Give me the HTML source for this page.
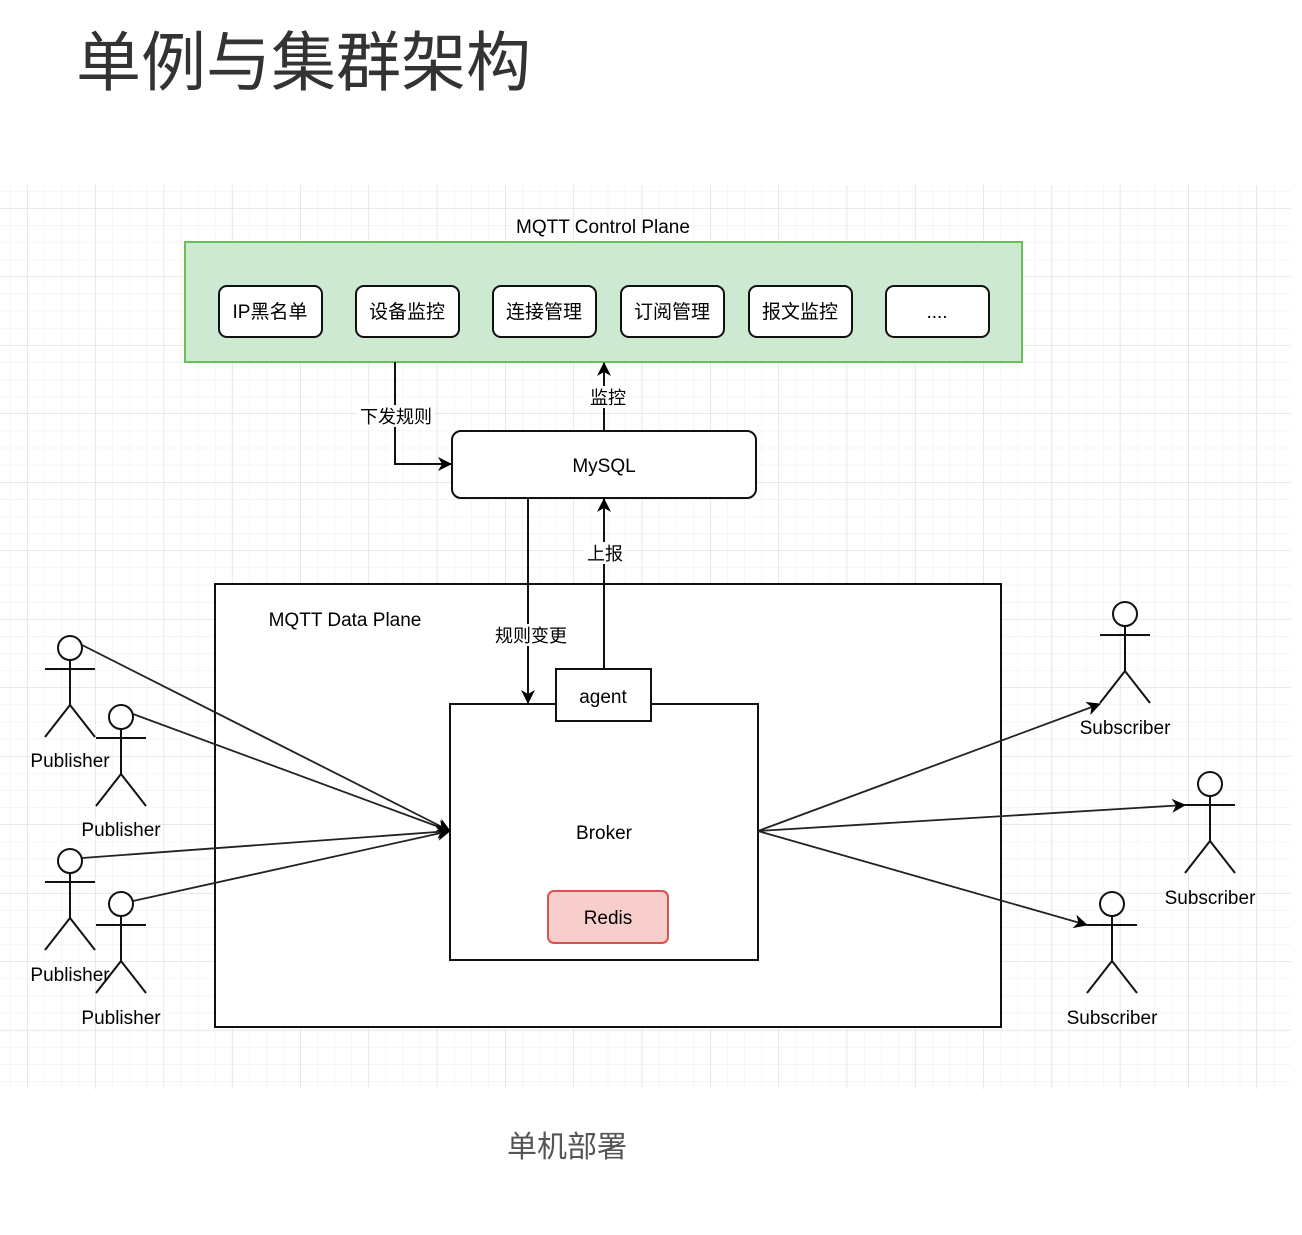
<!DOCTYPE html>
<html><head><meta charset="utf-8"><style>
html,body{margin:0;padding:0;background:#fff;}
svg text{font-family:"Liberation Sans","Noto Sans CJK SC",sans-serif;}
</style></head><body>
<svg width="1302" height="1230" viewBox="0 0 1302 1230" xmlns="http://www.w3.org/2000/svg">
<defs>
<pattern id="minor" x="27" y="208" width="17.08" height="17.12" patternUnits="userSpaceOnUse">
<path d="M0 0V17.12M0 0H17.08" stroke="#efefef" stroke-width="1.2" fill="none"/>
</pattern>
<pattern id="major" x="27" y="208" width="68.3" height="68.5" patternUnits="userSpaceOnUse">
<path d="M0 0V68.5M0 0H68.3" stroke="#d8d8d8" stroke-width="1" fill="none"/>
</pattern>
<marker id="ar" markerWidth="14" markerHeight="14" refX="13" refY="7" orient="auto" markerUnits="userSpaceOnUse" viewBox="0 0 14 14">
<path d="M0 0L14 7L0 14L4 7Z" fill="#000"/>
</marker>
<marker id="ar2" markerWidth="14" markerHeight="14" refX="13" refY="7" orient="auto" markerUnits="userSpaceOnUse" viewBox="0 0 14 14">
<path d="M0 0L14 7L0 14L4 7Z" fill="#000"/>
</marker>
</defs>
<text x="76" y="85" font-size="65" fill="#333" style="font-family:'Noto Sans CJK SC',sans-serif">单例与集群架构</text>
<rect x="0" y="185" width="1291" height="904" fill="url(#minor)"/>
<rect x="0" y="185" width="1291" height="904" fill="url(#major)"/>

<text x="603" y="233" font-size="19" text-anchor="middle" fill="#000">MQTT Control Plane</text>
<rect x="185" y="242" width="837" height="120" fill="#cde9d1" stroke="#6bbf59" stroke-width="2"/>
<g fill="#fff" stroke="#111" stroke-width="2">
<rect x="219" y="286" width="103" height="51" rx="8"/>
<rect x="356" y="286" width="103" height="51" rx="8"/>
<rect x="493" y="286" width="103" height="51" rx="8"/>
<rect x="621" y="286" width="103" height="51" rx="8"/>
<rect x="749" y="286" width="103" height="51" rx="8"/>
<rect x="886" y="286" width="103" height="51" rx="8"/>
</g>
<g font-size="19" text-anchor="middle" fill="#000">
<text x="270" y="318">IP黑名单</text>
<text x="407" y="318">设备监控</text>
<text x="544" y="318">连接管理</text>
<text x="672" y="318">订阅管理</text>
<text x="800" y="318">报文监控</text>
<text x="937" y="318">....</text>
</g>

<rect x="452" y="431" width="304" height="67" rx="9" fill="#fff" stroke="#111" stroke-width="2"/>
<text x="604" y="472" font-size="19" text-anchor="middle">MySQL</text>

<rect x="215" y="584" width="786" height="443" fill="#fff" stroke="#111" stroke-width="2"/>
<text x="345" y="626" font-size="19" text-anchor="middle">MQTT Data Plane</text>
<rect x="450" y="704" width="308" height="256" fill="#fff" stroke="#111" stroke-width="2"/>
<text x="604" y="839" font-size="19" text-anchor="middle">Broker</text>
<rect x="548" y="891" width="120" height="52" rx="6" fill="#f8cecc" stroke="#d9534f" stroke-width="2"/>
<text x="608" y="924" font-size="19" text-anchor="middle">Redis</text>

<g stroke="#111" stroke-width="2" fill="none">
<path d="M395 362V464H451" marker-end="url(#ar)"/>
<path d="M604 431V363" marker-end="url(#ar)"/>
<path d="M604 669V499" marker-end="url(#ar)"/>
<path d="M528 498V703" marker-end="url(#ar)"/>
</g>
<rect x="556" y="669" width="95" height="52" fill="#fff" stroke="#111" stroke-width="2"/>
<text x="603" y="703" font-size="19" text-anchor="middle">agent</text>

<g font-size="18" text-anchor="middle">
<rect x="358" y="405" width="76" height="22" fill="#fff"/>
<text x="396" y="423">下发规则</text>
<rect x="588" y="386" width="40" height="22" fill="#fff"/>
<text x="608" y="404">监控</text>
<rect x="585" y="542" width="40" height="22" fill="#fff"/>
<text x="605" y="560">上报</text>
<rect x="492" y="624" width="78" height="22" fill="#fff"/>
<text x="531" y="642">规则变更</text>
</g>

<g stroke="#222" stroke-width="1.8" fill="none">
<path d="M82 645L450 831" marker-end="url(#ar2)"/>
<path d="M133 714L450 831" marker-end="url(#ar2)"/>
<path d="M82 858L450 831" marker-end="url(#ar2)"/>
<path d="M133 901L450 831" marker-end="url(#ar2)"/>
<path d="M758 831L1100 704" marker-end="url(#ar2)"/>
<path d="M758 831L1185 805" marker-end="url(#ar2)"/>
<path d="M758 831L1087 925" marker-end="url(#ar2)"/>
</g>

<g stroke="#111" stroke-width="2" fill="none">
<g transform="translate(70,648)"><circle r="12" cy="0" fill="#fff"/><path d="M0 12V57M-25 21H25M0 57L-25 89M0 57L25 89"/></g>
<g transform="translate(121,717)"><circle r="12" fill="#fff"/><path d="M0 12V57M-25 21H25M0 57L-25 89M0 57L25 89"/></g>
<g transform="translate(70,861)"><circle r="12" fill="#fff"/><path d="M0 12V57M-25 21H25M0 57L-25 89M0 57L25 89"/></g>
<g transform="translate(121,904)"><circle r="12" fill="#fff"/><path d="M0 12V57M-25 21H25M0 57L-25 89M0 57L25 89"/></g>
<g transform="translate(1125,614)"><circle r="12" fill="#fff"/><path d="M0 12V57M-25 21H25M0 57L-25 89M0 57L25 89"/></g>
<g transform="translate(1210,784)"><circle r="12" fill="#fff"/><path d="M0 12V57M-25 21H25M0 57L-25 89M0 57L25 89"/></g>
<g transform="translate(1112,904)"><circle r="12" fill="#fff"/><path d="M0 12V57M-25 21H25M0 57L-25 89M0 57L25 89"/></g>
</g>
<g font-size="19" text-anchor="middle">
<text x="70" y="767">Publisher</text>
<text x="121" y="836">Publisher</text>
<text x="70" y="981">Publisher</text>
<text x="121" y="1024">Publisher</text>
<text x="1125" y="734">Subscriber</text>
<text x="1210" y="904">Subscriber</text>
<text x="1112" y="1024">Subscriber</text>
</g>

<text x="567" y="1157" font-size="30" text-anchor="middle" fill="#555" style="font-family:'Noto Sans CJK SC',sans-serif">单机部署</text>
</svg>
</body></html>
